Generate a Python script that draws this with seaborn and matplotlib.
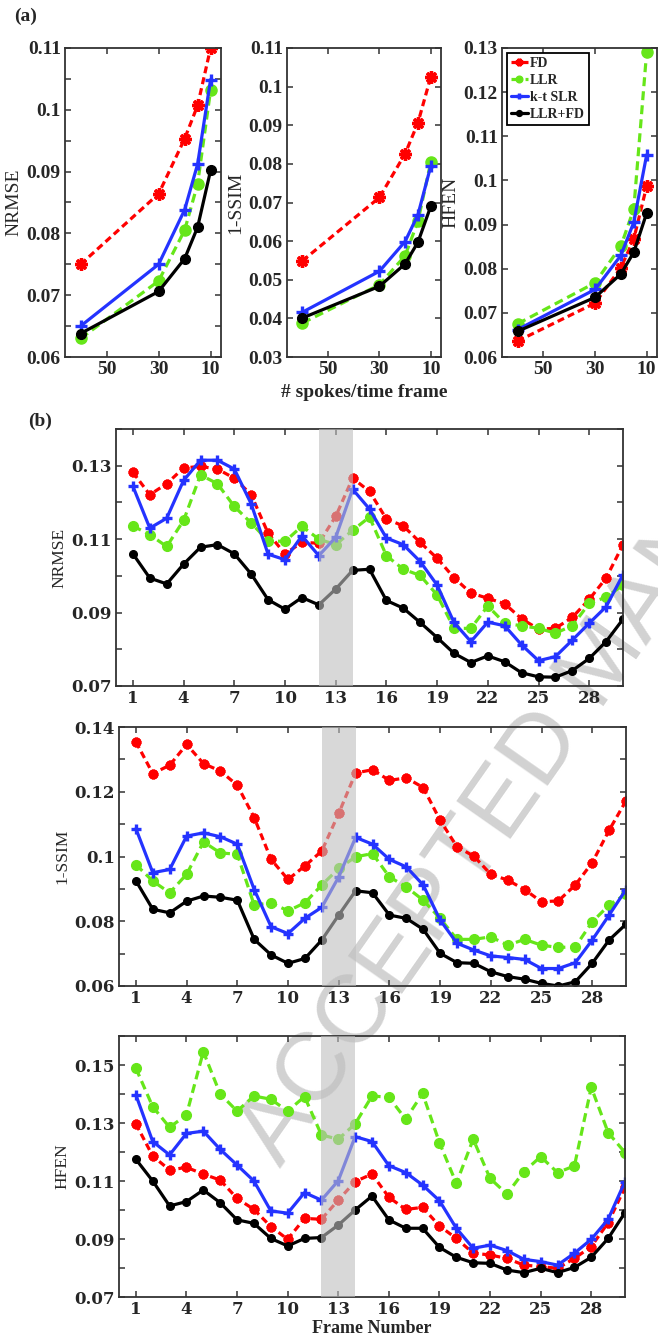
import numpy as np
import pandas as pd
import matplotlib
matplotlib.use("Agg")
import matplotlib.pyplot as plt
import seaborn as sns
from matplotlib.ticker import FuncFormatter

# ---------------- data ----------------
methods = ["FD", "LLR", "k-t SLR", "LLR+FD"]
spokes = [60, 30, 20, 15, 10]

a_nrmse_fd = [0.0750, 0.0864, 0.0953, 0.1007, 0.1100]
a_nrmse_llr = [0.0630, 0.0723, 0.0805, 0.0880, 0.1032]
a_nrmse_ktslr = [0.0650, 0.0750, 0.0838, 0.0912, 0.1049]
a_nrmse_llrfd = [0.0638, 0.0706, 0.0759, 0.0810, 0.0902]

a_ssim_fd = [0.0549, 0.0713, 0.0826, 0.0906, 0.1025]
a_ssim_llr = [0.0388, 0.0487, 0.0562, 0.0651, 0.0804]
a_ssim_ktslr = [0.0416, 0.0522, 0.0599, 0.0668, 0.0794]
a_ssim_llrfd = [0.0401, 0.0483, 0.0541, 0.0597, 0.0690]

a_hfen_fd = [0.0636, 0.0722, 0.0802, 0.0867, 0.0987]
a_hfen_llr = [0.0675, 0.0768, 0.0851, 0.0935, 0.1291]
a_hfen_ktslr = [0.0662, 0.0753, 0.0830, 0.0905, 0.1058]
a_hfen_llrfd = [0.0658, 0.0735, 0.0788, 0.0837, 0.0926]

frames = list(range(1, 31))

b_nrmse_fd = [0.1282, 0.1221, 0.1251, 0.1294, 0.1298, 0.1291, 0.1266, 0.1221, 0.1116, 0.1060,
              0.1091, 0.1089, 0.1162, 0.1266, 0.1230, 0.1155, 0.1136, 0.1091, 0.1048, 0.0995,
              0.0953, 0.0939, 0.0924, 0.0883, 0.0855, 0.0857, 0.0887, 0.0936, 0.0994, 0.1085]
b_nrmse_llr = [0.1136, 0.1112, 0.1080, 0.1151, 0.1275, 0.1251, 0.1189, 0.1144, 0.1095, 0.1094,
               0.1135, 0.1100, 0.1085, 0.1124, 0.1160, 0.1055, 0.1018, 0.1001, 0.0948, 0.0857,
               0.0857, 0.0918, 0.0871, 0.0864, 0.0857, 0.0844, 0.0864, 0.0925, 0.0942, 0.0975]
b_nrmse_ktslr = [0.1244, 0.1130, 0.1157, 0.1260, 0.1315, 0.1315, 0.1291, 0.1196, 0.1059, 0.1044,
                 0.1109, 0.1055, 0.1105, 0.1236, 0.1182, 0.1103, 0.1085, 0.1039, 0.0975, 0.0873,
                 0.0821, 0.0874, 0.0864, 0.0812, 0.0769, 0.0780, 0.0825, 0.0871, 0.0916, 0.1003]
b_nrmse_llrfd = [0.1060, 0.0994, 0.0978, 0.1032, 0.1078, 0.1085, 0.1060, 0.1005, 0.0935, 0.0909,
                 0.0941, 0.0921, 0.0964, 0.1015, 0.1018, 0.0933, 0.0912, 0.0873, 0.0832, 0.0789,
                 0.0764, 0.0782, 0.0766, 0.0736, 0.0725, 0.0724, 0.0742, 0.0775, 0.0821, 0.0882]

b_ssim_fd = [0.1354, 0.1256, 0.1282, 0.1346, 0.1287, 0.1264, 0.1220, 0.1120, 0.0991, 0.0929,
             0.0971, 0.1017, 0.1133, 0.1258, 0.1268, 0.1235, 0.1243, 0.1213, 0.1112, 0.1030,
             0.1001, 0.0945, 0.0927, 0.0898, 0.0860, 0.0863, 0.0912, 0.0981, 0.1081, 0.1172]
b_ssim_llr = [0.0975, 0.0924, 0.0888, 0.0945, 0.1045, 0.1011, 0.1007, 0.0850, 0.0857, 0.0832,
              0.0857, 0.0912, 0.0963, 0.0999, 0.1009, 0.0937, 0.0906, 0.0865, 0.0809, 0.0744,
              0.0744, 0.0752, 0.0726, 0.0744, 0.0726, 0.0719, 0.0721, 0.0798, 0.0850, 0.0884]
b_ssim_ktslr = [0.1086, 0.0950, 0.0960, 0.1063, 0.1073, 0.1061, 0.1038, 0.0898, 0.0783, 0.0762,
                0.0809, 0.0843, 0.0937, 0.1059, 0.1038, 0.0991, 0.0968, 0.0912, 0.0804, 0.0732,
                0.0711, 0.0693, 0.0688, 0.0682, 0.0654, 0.0654, 0.0672, 0.0742, 0.0819, 0.0898]
b_ssim_llrfd = [0.0925, 0.0837, 0.0826, 0.0862, 0.0878, 0.0874, 0.0865, 0.0744, 0.0696, 0.0670,
                0.0685, 0.0742, 0.0819, 0.0894, 0.0888, 0.0819, 0.0809, 0.0775, 0.0701, 0.0672,
                0.0670, 0.0644, 0.0629, 0.0621, 0.0608, 0.0600, 0.0613, 0.0670, 0.0742, 0.0791]

b_hfen_fd = [0.1297, 0.1186, 0.1138, 0.1147, 0.1124, 0.1103, 0.1040, 0.1002, 0.0943, 0.0899,
             0.0971, 0.0968, 0.1034, 0.1098, 0.1124, 0.1044, 0.1002, 0.1009, 0.0945, 0.0902,
             0.0851, 0.0845, 0.0833, 0.0810, 0.0805, 0.0799, 0.0833, 0.0874, 0.0956, 0.1078]
b_hfen_llr = [0.1489, 0.1356, 0.1285, 0.1328, 0.1546, 0.1400, 0.1341, 0.1393, 0.1382, 0.1341,
              0.1391, 0.1259, 0.1244, 0.1297, 0.1393, 0.1389, 0.1313, 0.1402, 0.1232, 0.1092,
              0.1244, 0.1109, 0.1055, 0.1132, 0.1184, 0.1129, 0.1152, 0.1423, 0.1267, 0.1198]
b_hfen_ktslr = [0.1397, 0.1236, 0.1190, 0.1264, 0.1272, 0.1209, 0.1155, 0.1100, 0.0997, 0.0989,
                0.1060, 0.1034, 0.1101, 0.1253, 0.1236, 0.1153, 0.1129, 0.1086, 0.1032, 0.0937,
                0.0868, 0.0879, 0.0860, 0.0830, 0.0822, 0.0810, 0.0851, 0.0899, 0.0968, 0.1098]
b_hfen_llrfd = [0.1175, 0.1100, 0.1014, 0.1029, 0.1069, 0.1025, 0.0966, 0.0954, 0.0902, 0.0876,
                0.0902, 0.0905, 0.0948, 0.1000, 0.1048, 0.0966, 0.0937, 0.0937, 0.0871, 0.0837,
                0.0818, 0.0816, 0.0793, 0.0784, 0.0799, 0.0784, 0.0802, 0.0837, 0.0902, 0.0991]

highlight = (12, 14)

# ---------------- style ----------------
sns.set_style("ticks")
plt.rcParams["font.family"] = ["Liberation Serif", "DejaVu Serif"]
plt.rcParams["mathtext.default"] = "regular"

colors = {"FD": "#ff0000", "LLR": "#66e619", "k-t SLR": "#2433ff", "LLR+FD": "#000000"}
lstyle = {"FD": (0, (2.2, 1.3)), "LLR": (0, (2.8, 1.6)), "k-t SLR": "-", "LLR+FD": "-"}
mk = {"FD": (8, 2, 0), "LLR": "o", "k-t SLR": "+", "LLR+FD": "o"}
ms_a = {"FD": 9, "LLR": 8, "k-t SLR": 8, "LLR+FD": 7}
ms_b = {"FD": 7, "LLR": 7, "k-t SLR": 6.5, "LLR+FD": 5.5}
mew = {"FD": 2.4, "LLR": 1, "k-t SLR": 2.4, "LLR+FD": 1}

SPINE = "#333333"
W, H = 658, 1343
fig = plt.figure(figsize=(W / 100, H / 100), dpi=100)


def box(l, t, r, b):
    return [l / W, 1 - b / H, (r - l) / W, (b - t) / H]


fmt = FuncFormatter(lambda v, p: f"{round(v, 4):g}")


def style_ax(ax, fs, family):
    ax.set_facecolor("none")
    for s in ax.spines.values():
        s.set_color(SPINE)
        s.set_linewidth(1.3)
        s.set_visible(True)
    ax.tick_params(which="both", direction="in", top=True, right=True, color=SPINE,
                   width=1.1, labelsize=fs, pad=3)
    ax.tick_params(which="major", length=4)
    ax.tick_params(which="minor", length=4)
    ax.yaxis.set_major_formatter(fmt)
    for lab in ax.get_xticklabels() + ax.get_yticklabels():
        lab.set_fontweight("bold")
        lab.set_family(family)


def draw(ax, x, series, ms, lw):
    for name, y in zip(methods, series):
        sns.lineplot(x=x, y=y, ax=ax, color=colors[name], linestyle=lstyle[name],
                     marker=mk[name], markersize=ms[name], markeredgewidth=mew[name],
                     markeredgecolor=colors[name], markerfacecolor=colors[name],
                     linewidth=lw, label=name, errorbar=None, sort=False)
    leg = ax.get_legend()
    if leg is not None:
        leg.remove()


# ---------------- panel (a) ----------------
a_sets = [
    ([a_nrmse_fd, a_nrmse_llr, a_nrmse_ktslr, a_nrmse_llrfd], "NRMSE", (0.06, 0.11), 0.01, 0.005, (65, 48, 221, 357)),
    ([a_ssim_fd, a_ssim_llr, a_ssim_ktslr, a_ssim_llrfd], "1-SSIM", (0.03, 0.11), 0.01, None, (287, 48, 441, 357)),
    ([a_hfen_fd, a_hfen_llr, a_hfen_ktslr, a_hfen_llrfd], "HFEN", (0.06, 0.13), 0.01, None, (502, 48, 657, 357)),
]
axes_a = []
for series, lab, ylim, step, minor, bx in a_sets:
    ax = fig.add_axes(box(*bx))
    draw(ax, spokes, series, ms_a, 2.3)
    ax.set_xlim(66, 6)
    ax.set_ylim(*ylim)
    ax.set_xticks([50, 30, 10])
    ax.set_yticks(np.round(np.arange(ylim[0], ylim[1] + 1e-9, step), 4))
    if minor:
        ax.set_yticks(np.round(np.arange(ylim[0], ylim[1] + 1e-9, minor), 4), minor=True)
    ax.set_ylabel(lab, fontsize=14, labelpad=3)
    ax.set_xlabel("")
    style_ax(ax, 14, ["Liberation Serif"])
    axes_a.append(ax)

axes_a[1].set_xlabel("# spokes/time frame", fontsize=14, fontweight="bold", labelpad=4)

leg = axes_a[2].legend(loc="upper left", frameon=True, fancybox=False,
                       edgecolor="black", framealpha=1, handlelength=1.2, handletextpad=0.15,
                       borderpad=0.3, labelspacing=0.28, borderaxespad=0.35, markerscale=0.6,
                       prop={"weight": "bold", "size": 10})
leg.get_frame().set_linewidth(1.3)

# ---------------- panel (b) ----------------
b_sets = [
    ([b_nrmse_fd, b_nrmse_llr, b_nrmse_ktslr, b_nrmse_llrfd], "NRMSE", (0.07, 0.14), (116, 429, 623, 686)),
    ([b_ssim_fd, b_ssim_llr, b_ssim_ktslr, b_ssim_llrfd], "1-SSIM", (0.06, 0.14), (119, 727, 626, 986)),
    ([b_hfen_fd, b_hfen_llr, b_hfen_ktslr, b_hfen_llrfd], "HFEN", (0.07, 0.16), (119, 1036, 625, 1297)),
]
axes_b = []
for series, lab, ylim, bx in b_sets:
    ax = fig.add_axes(box(*bx))
    draw(ax, frames, series, ms_b, 2.3)
    ax.axvspan(*highlight, color="0.75", alpha=0.6, lw=0, zorder=5)
    ax.set_xlim(0, 30)
    ax.set_ylim(*ylim)
    ax.set_xticks(list(range(1, 30, 3)))
    ax.set_yticks(np.round(np.arange(ylim[0], ylim[1] + 1e-9, 0.02), 4))
    ax.set_yticks(np.round(np.arange(ylim[0], ylim[1] + 1e-9, 0.01), 4), minor=True)
    ax.set_ylabel(lab, fontsize=12.5, labelpad=3)
    ax.set_xlabel("")
    style_ax(ax, 12, ["DejaVu Serif"])
    axes_b.append(ax)

axes_b[2].set_xlabel("Frame Number", fontsize=13, fontweight="bold", labelpad=1)

fig.text(14 / W, 1 - 16 / H, "(a)", fontsize=14, fontweight="bold", ha="left", va="center")
fig.text(28 / W, 1 - 421 / H, "(b)", fontsize=14, fontweight="bold", ha="left", va="center")

# watermark
fig.text(280 / W, 1 - 1168 / H, "ACCEPTED MANUSCRIPT", rotation=55, rotation_mode="anchor",
         ha="left", va="baseline", fontsize=70, color="#d2d2d2", family="Liberation Sans",
         zorder=-1)

fig.savefig("out.png", dpi=100, facecolor="white")
